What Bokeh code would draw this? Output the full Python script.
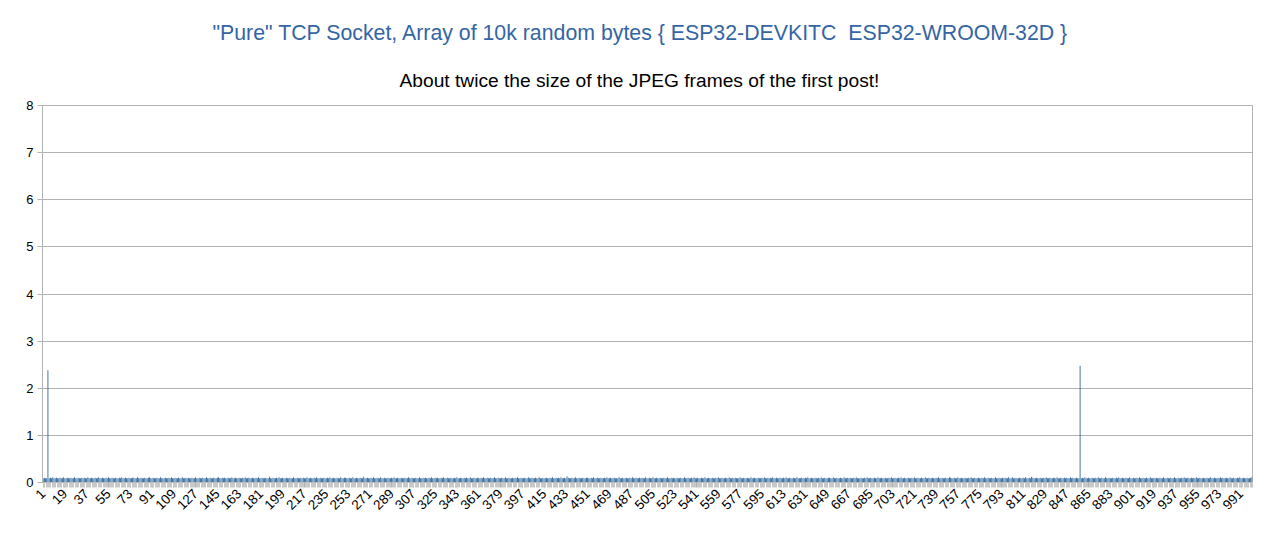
from bokeh.plotting import figure
from bokeh.models import FixedTicker, Title, ColumnDataSource
from bokeh.embed import file_html
from bokeh.resources import INLINE
import math

TITLE = '"Pure" TCP Socket, Array of 10k random bytes { ESP32-DEVKITC \u00a0ESP32-WROOM-32D }'
SUBTITLE = "About twice the size of the JPEG frames of the first post!"

# values in hundredths of a second, categories 1..1000 (rows of 25)
values_hundredths = [
    9,10,9,9,238,9,10,9,11,9,9,10,9,9,10,9,9,11,9,9,10,9,9,10,9,
    9,11,9,9,10,9,9,10,9,10,9,9,11,9,9,10,9,9,10,9,9,11,9,9,10,
    9,9,10,9,11,9,9,10,9,9,10,9,9,10,9,11,9,9,10,9,9,10,9,9,10,
    10,9,9,11,9,9,10,9,9,10,9,9,10,11,9,9,10,9,9,10,9,9,11,9,9,
    9,10,9,9,10,9,11,9,9,10,9,9,10,9,9,11,9,9,10,9,10,9,9,10,9,
    9,11,9,9,10,9,9,10,9,9,11,9,9,10,9,9,10,9,9,10,11,9,9,10,9,
    10,9,9,10,9,9,11,9,9,10,9,9,10,9,9,10,9,11,9,9,10,9,9,10,9,
    9,10,9,11,9,9,10,9,9,10,9,9,12,9,9,10,9,9,10,9,11,9,9,10,9,
    9,10,9,9,10,9,9,11,9,9,10,9,9,10,9,10,9,9,11,9,9,10,9,9,10,
    9,11,9,9,10,9,9,10,9,9,10,9,11,9,9,10,9,9,10,9,9,11,9,9,10,
    10,9,9,10,9,9,11,9,9,10,9,9,10,9,9,12,9,9,10,9,9,10,9,11,9,
    9,10,9,9,11,9,9,10,9,9,10,9,9,10,9,11,9,9,10,9,9,10,9,9,10,
    9,9,11,9,9,10,9,9,10,9,9,11,9,9,10,9,10,9,9,10,9,11,9,9,10,
    9,10,9,9,10,9,11,9,9,10,9,9,10,9,9,10,9,11,9,9,10,9,9,10,9,
    10,9,9,11,9,9,10,9,9,10,9,9,10,9,11,9,9,10,9,9,10,9,9,11,9,
    9,10,9,9,10,9,9,11,9,9,10,9,9,10,9,10,9,11,9,9,10,9,9,10,9,
    9,11,9,9,10,9,9,10,9,9,11,9,9,10,9,9,10,9,9,10,9,11,9,9,10,
    9,10,9,11,9,9,10,9,13,10,9,9,10,9,9,11,9,9,10,9,9,10,9,9,10,
    10,9,9,10,9,11,9,9,10,9,9,10,9,9,10,9,11,9,9,10,9,9,10,9,9,
    9,11,9,9,10,9,9,10,9,9,10,9,11,9,9,10,9,9,10,9,10,9,9,11,9,
    9,10,9,9,11,9,9,10,9,9,10,9,9,10,9,9,11,9,9,10,9,10,9,9,10,
    9,9,10,9,9,11,9,9,10,9,9,10,9,11,9,9,10,9,9,10,9,9,11,9,9,
    10,9,9,10,9,9,10,9,11,9,9,10,9,9,10,9,9,11,9,9,10,9,10,9,9,
    9,11,9,9,10,9,9,10,9,9,11,9,9,10,9,9,10,9,9,10,9,11,9,9,10,
    9,10,9,11,9,9,10,9,9,10,9,9,10,9,11,9,9,10,9,9,10,9,9,11,9,
    9,9,10,9,9,10,9,11,9,9,10,9,9,10,9,9,10,9,11,9,9,10,9,9,10,
    10,9,9,11,9,9,10,9,9,10,9,9,11,9,9,10,9,10,9,9,10,9,11,9,9,
    9,10,9,9,10,9,11,9,9,10,9,9,10,9,9,11,9,9,10,9,9,10,9,9,10,
    9,11,9,9,10,9,9,10,9,11,9,9,10,9,9,10,9,9,10,9,11,9,9,10,9,
    9,10,9,9,11,9,9,10,9,9,10,9,9,10,9,11,9,9,10,9,9,10,9,9,11,
    10,9,9,10,9,9,11,9,9,10,9,9,10,9,9,10,9,11,9,9,10,9,9,10,9,
    9,10,9,11,9,9,10,9,9,10,9,9,11,9,9,10,9,9,10,9,10,9,9,11,9,
    9,11,9,9,10,9,9,10,9,9,10,9,11,9,9,10,9,12,10,9,9,10,9,9,10,
    9,9,10,9,11,9,9,10,9,9,10,9,9,11,9,9,10,9,9,10,9,10,9,9,11,
    9,10,9,9,10,9,9,248,9,10,9,11,9,9,10,9,9,10,9,9,10,9,11,9,9,
    10,9,9,11,9,9,10,9,9,10,9,9,10,9,11,9,9,10,9,9,10,9,9,11,9,
    9,10,9,9,10,9,11,9,9,10,9,9,10,9,9,11,9,9,10,9,10,9,9,10,9,
    9,11,9,9,10,9,9,10,9,9,11,9,9,10,9,9,10,9,11,9,9,10,9,9,10,
    9,10,9,11,9,9,10,9,9,10,9,9,10,9,9,11,9,9,10,9,9,10,9,11,9,
    10,9,9,10,9,9,11,9,9,10,9,9,10,9,11,9,9,10,9,9,10,9,9,10,11,
]

categories = list(range(1, len(values_hundredths) + 1))
values = [v / 100.0 for v in values_hundredths]
label_ticks = list(range(1, 1000, 18))
y_ticks = [0, 1, 2, 3, 4, 5, 6, 7, 8]

src = ColumnDataSource(dict(x=categories, y=values))

p = figure(width=1269, height=528, output_backend="svg", toolbar_location=None,
           x_range=(0.5, len(categories) + 0.5), y_range=(0, 8),
           min_border_left=42, min_border_right=17, min_border_top=105,
           min_border_bottom=46)

p.title.text = TITLE
p.title.align = "left"
p.title.text_font = "Liberation Sans"
p.title.text_font_size = "21.3px"
p.title.text_font_style = "normal"
p.title.text_color = "#3465a4"
p.title.offset = 170
p.title.standoff = 18

sub = Title(text=SUBTITLE, align="left", text_font="Liberation Sans",
            text_font_size="19.2px", text_font_style="normal",
            text_color="#000000", offset=357, standoff=29)
p.add_layout(sub, "above")

p.vbar(x="x", top="y", width=0.6, bottom=0, source=src,
       fill_color="#004586", line_color=None)

p.outline_line_color = "#b3b3b3"
p.background_fill_color = "white"
p.border_fill_color = "white"

p.xgrid.visible = False
p.ygrid.ticker = FixedTicker(ticks=y_ticks)
p.ygrid.grid_line_color = "#b3b3b3"

p.yaxis.ticker = FixedTicker(ticks=y_ticks)
p.yaxis.axis_line_color = "#b3b3b3"
p.yaxis.major_tick_line_color = "#b3b3b3"
p.yaxis.major_tick_out = 5
p.yaxis.major_tick_in = 0
p.yaxis.minor_tick_line_color = None
p.yaxis.major_label_text_font = "Liberation Sans"
p.yaxis.major_label_text_font_size = "13px"
p.yaxis.major_label_text_color = "#000000"
p.yaxis.major_label_standoff = 4

p.xaxis.ticker = FixedTicker(ticks=label_ticks, minor_ticks=[c + 0.5 for c in categories])
p.xaxis.axis_line_color = "#b3b3b3"
p.xaxis.major_tick_line_color = "#b3b3b3"
p.xaxis.major_tick_out = 5
p.xaxis.major_tick_in = 0
p.xaxis.minor_tick_line_color = "#c8c8c8"
p.xaxis.minor_tick_out = 5
p.xaxis.minor_tick_in = 0
p.xaxis.major_label_orientation = math.pi / 4
p.xaxis.major_label_text_font = "Liberation Sans"
p.xaxis.major_label_text_font_size = "13.5px"
p.xaxis.major_label_text_color = "#000000"
p.xaxis.major_label_standoff = 4

open("out.html", "w").write(file_html(p, INLINE))
